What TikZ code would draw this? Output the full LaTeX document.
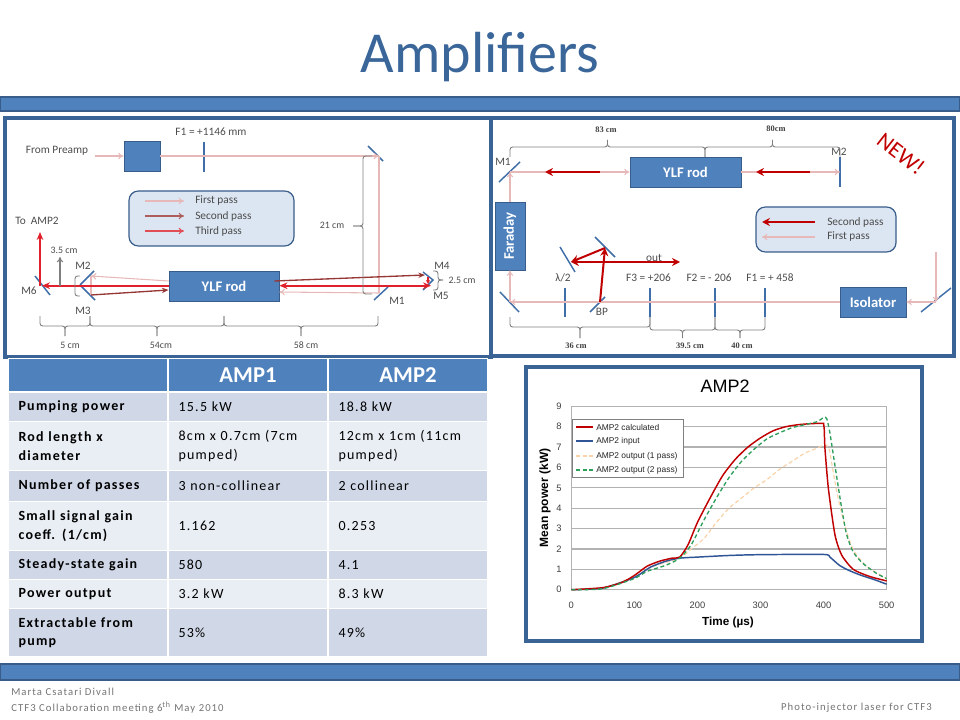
\documentclass[tikz,border=0pt]{standalone}
\usepackage{fontspec}
\usepackage{tikz}
\usetikzlibrary{positioning, calc, arrows.meta}
\setmainfont{Carlito}
\setsansfont{Liberation Sans}
\newfontfamily\footfont[LetterSpace=10]{Carlito}
\newfontfamily\tablefont[LetterSpace=9]{Carlito}
\newfontfamily\serifbit{Liberation Serif}
\definecolor{barblue}{HTML}{4F81BD}
\definecolor{edgeblue}{HTML}{385D8A}
\definecolor{paneblue}{HTML}{3A6396}
\definecolor{mirrorblue}{HTML}{3F6EA8}
\definecolor{legendfill}{HTML}{DCE6F2}
\definecolor{rowdark}{HTML}{D0D8E8}
\definecolor{rowlight}{HTML}{E9EDF4}
\definecolor{titleblue}{HTML}{3A6699}
\definecolor{palebeam}{HTML}{E6B9B8}
\definecolor{darkbeam}{HTML}{953735}
\definecolor{redbeam}{HTML}{C00000}
\definecolor{brightbeam}{HTML}{E0202A}
\definecolor{dimgray}{HTML}{7F7F7F}
\definecolor{inputblue}{HTML}{2F5597}
\definecolor{passgreen}{HTML}{2E9E5B}
\definecolor{passorange}{HTML}{FAD2A8}
\newcommand{\fsz}[1]{\fontsize{#1}{#1}\selectfont}
\newcommand{\dimbrack}[5]{\pgfmathsetmacro{\xm}{(#1+#2)/2}
  \draw[dimline] (#1,#3) -- (#1,#4) -- (\xm,#4) -- (\xm,#5);
  \draw[dimline] (\xm,#5) -- (\xm,#4) -- (#2,#4) -- (#2,#3);}
\tikzset{
  bar/.style={fill=barblue, draw=edgeblue, line width=1.6pt},
  pane/.style={draw=paneblue, line width=2.6pt},
  rod/.style={fill=barblue, draw=edgeblue, line width=.7pt, text=white, font=\fsz{11}\bfseries, inner sep=0},
  legendbox/.style={fill=legendfill, draw=edgeblue, line width=.9pt, rounded corners=7pt},
  lbl/.style={font=\fsz{8.5}, text=black!70, inner sep=0},
  small/.style={font=\fsz{7.4}, text=black!70, inner sep=0},
  tiny/.style={font=\serifbit\fsz{6.3}\bfseries, text=black!75, inner sep=0},
  dimline/.style={draw=dimgray, line width=.7pt, rounded corners=2pt},
  palearrow/.style={draw=palebeam, line width=.8pt, -{To[length=4pt,width=5pt]}},
  paleline/.style={draw=palebeam, line width=.8pt},
  darkarrow/.style={draw=darkbeam, line width=1pt, -{Stealth[length=5pt,width=4pt]}},
  thirdarrow/.style={draw=brightbeam, line width=1.6pt, -{Stealth[length=6pt,width=5pt]}},
  redarrow/.style={draw=redbeam, line width=1.5pt, -{Stealth[length=6pt,width=6pt]}},
  mirror/.style={draw=mirrorblue, line width=1.1pt},
  lens/.style={draw=mirrorblue, line width=.9pt},
  cell/.style={anchor=north west, minimum width=119.25pt, text width=104.25pt, inner xsep=7.5pt,
    inner ysep=0pt, draw=white, line width=.8pt, align=left},
  legtext/.style={font=\sffamily\fsz{6.3}, text=black!85, inner sep=0, anchor=west},
  ticktext/.style={font=\sffamily\fsz{7}, text=black!75, inner sep=0},
  gridl/.style={draw=black!30, line width=.9pt}
}
\begin{document}
\begin{tikzpicture}[x=0.75pt, y=-0.75pt, >=stealth]
\useasboundingbox (0,0) rectangle (960,720);

\node[font=\fsz{43.5}, text=titleblue, inner sep=0] (title) at (480,57) {Amplifiers};
\node[bar, minimum width=720pt, minimum height=11pt, inner sep=0] (topbar) at (480,104) {};
\node[bar, minimum width=720pt, minimum height=12pt, inner sep=0] (botbar) at (480,672) {};

\draw[pane] (5,118) rectangle (491,357);
\draw[pane] (491,118) rectangle (954,356);

% AMP1 layout
\node[lbl] (frompre) at (57,151) {From Preamp};
\node[fill=barblue, draw=edgeblue, line width=.7pt, minimum width=27pt, minimum height=22.5pt, inner sep=0] (preamp) at (142,156) {};
\node[lbl] (fonetxt) at (211,131.5) {F1 = +1146 mm};
\node[rod, minimum width=82.5pt, minimum height=22.5pt] (rodA) at (224,286) {YLF rod};
\draw[lens] (204,142) -- (204,172);
\coordinate (inA) at (95,156);
\coordinate (mTop) at (379,156);
\coordinate (mOne) at (379,293);
\coordinate (mTwo) at (91,276);
\coordinate (mThree) at (91,295);
\coordinate (mFour) at (425,275);
\coordinate (mTip) at (431,285.7);
\coordinate (mSix) at (42,285.7);
\coordinate (outA) at (40,232);
\coordinate (hTop) at (60,257);
\coordinate (hBot) at (60,285.7);
\draw[mirror] (368,146) -- (383,161);
\draw[mirror] (374,300) -- (388,287);
\draw[mirror] (80,285) -- (94,271);
\draw[mirror] (80,285) -- (95,300);
\draw[mirror] (35,276) -- (50,295);
\draw[mirror] (423,272) -- (433,280) -- (423,290);
\draw[palearrow] (inA) -- (preamp);
\draw[palearrow] (preamp) -- (mTop);
\draw[paleline] (mTop) -- (mOne);
\draw[palearrow] (mOne) -- (rodA.east |- 0,292);
\draw[palearrow] (rodA.west |- 0,281) -- (mTwo);
\draw[paleline] (mTwo) -- (mThree);
\draw[darkarrow] (mThree) -- (rodA.west |- 0,290);
\draw[darkarrow] (rodA.east |- 0,281) ++(-5,0) -- (mFour);
\draw[thirdarrow, {Stealth[length=6pt,width=5pt]}-{Stealth[length=6pt,width=5pt]}] (rodA.east |- 0,285.7) -- (mTip);
\draw[thirdarrow] (rodA.west |- 0,285.7) -- (mSix);
\draw[thirdarrow] (mSix) ++(-2,0) -- (outA);
\draw[draw=brightbeam, line width=.8pt, -{Stealth[length=3pt,width=3pt]}] (428,277) -- (428,284);
\draw[draw=dimgray, line width=.8pt, -{To[length=4pt,width=5pt]}] (hBot) -- (hTop);
\draw[dimline] (80,276) -- (75,276) -- (75,296) -- (80,296);
\node[lbl] (toamp) at (37,221) {To\ \ AMP2};
\node[small] (threefive) at (64,250) {3.5 cm};
\node[lbl] (ltwo) at (83,266) {M2};
\node[lbl] (lthree) at (83,311) {M3};
\node[lbl] (lsix) at (29,291) {M6};
\node[lbl] (lone) at (397,301) {M1};
\node[lbl] (lfour) at (442,266) {M4};
\node[lbl] (lfive) at (441,296) {M5};
\node[small] (twofive) at (462,280) {2.5 cm};
\node[small] (twoone) at (332,225) {21 cm};
\node[small] (fivecm) at (70,345) {5 cm};
\node[small] (fiftyfour) at (161,345) {54cm};
\node[small] (fiftyeight) at (306,345) {58 cm};
\dimbrack{40}{90}{316}{326}{336}
\dimbrack{90}{224}{316}{326}{336}
\dimbrack{224}{378}{316}{326}{336}
% the two upright brackets
\draw[dimline] (372,156) -- (363,156) -- (363,226) -- (353,226);
\draw[dimline] (353,226) -- (363,226) -- (363,294) -- (372,294);
\draw[dimline] (433,271) -- (438,271) -- (438,280) -- (443,280);
\draw[dimline] (443,280) -- (438,280) -- (438,290) -- (433,290);

\node[legendbox, minimum width=123.75pt, minimum height=41.25pt] (legA) at (211.5,218.5) {};
\coordinate (fpS) at (145,201);
\coordinate (fpE) at (184,201);
\coordinate (spS) at (145,216);
\coordinate (spE) at (184,216);
\coordinate (tpS) at (145,231);
\coordinate (tpE) at (184,231);
\draw[palearrow] (fpS) -- (fpE);
\draw[draw=darkbeam!70!palebeam, line width=.8pt, -{To[length=4pt,width=5pt]}] (spS) -- (spE);
\draw[draw=brightbeam!70!palebeam, line width=.8pt, -{To[length=4pt,width=5pt]}] (tpS) -- (tpE);
\node[lbl, anchor=west] (fptxt) at (195,201) {First pass};
\node[lbl, anchor=west] (sptxt) at (195,216) {Second pass};
\node[lbl, anchor=west] (tptxt) at (195,231) {Third pass};

% AMP2 layout
\node[rod, minimum width=83.25pt, minimum height=22.5pt] (rodB) at (685.5,172) {YLF rod};
\node[rod, rotate=90, minimum width=51pt, minimum height=22.5pt] (faraday) at (510,236) {Faraday};
\node[rod, minimum width=49.5pt, minimum height=22.5pt] (isolator) at (873,302) {Isolator};
\coordinate (bMone) at (510,172);
\coordinate (bMtwo) at (840,172);
\coordinate (bLow) at (510,302);
\coordinate (bIn) at (936,302);
\coordinate (bInTop) at (936,252);
\coordinate (rA) at (600,172);
\coordinate (rB) at (545,172);
\coordinate (rC) at (810,172);
\coordinate (rD) at (756,172);
\coordinate (oBP) at (600,302);
\coordinate (oUp) at (605,248);
\coordinate (oWave) at (571,262);
\coordinate (oOut) at (680,262);
\draw[mirror] (499,182) -- (520,162);
\draw[mirror] (500,292) -- (519,312);
\draw[mirror] (590,312) -- (605,297);
\draw[mirror] (595,237) -- (615,257);
\draw[mirror] (560,247) -- (575,272);
\draw[mirror] (921,312) -- (951,288);
\draw[lens] (840,157) -- (840,187);
\foreach \lx in {565,650,715,765}
  \draw[lens] (\lx,288) -- (\lx,317);
\draw[palearrow] (bMone) -- (rodB);
\draw[palearrow] (rodB) -- (bMtwo);
\draw[palearrow] (faraday) -- (bMone);
\draw[palearrow] (bLow) -- (faraday);
\draw[palearrow] (isolator) -- (bLow);
\draw[palearrow] (bIn) -- (isolator);
\draw[palearrow] (bInTop) -- (bIn);
\draw[redarrow] (rA) -- (rB);
\draw[redarrow] (rC) -- (rD);
\draw[redarrow] (oBP) -- (oUp);
\draw[redarrow] (oUp) -- (oWave);
\draw[redarrow, {Stealth[length=6pt,width=6pt]}-{Stealth[length=6pt,width=6pt]}] (oWave) -- (oOut);
\node[lbl] (mOneT) at (503,162) {M1};
\node[lbl] (mTwoT) at (839,152) {M2};
\node[lbl] (wave) at (563,278) {λ/2};
\node[lbl] (fthree) at (648.5,278) {F3 = +206};
\node[lbl] (ftwo) at (709,278) {F2 = - 206};
\node[lbl] (fone) at (770,278) {F1 = + 458};
\node[lbl] (bptxt) at (602,312) {BP};
\node[lbl] (outtxt) at (654,258) {out};
\node[tiny] (eightythree) at (606,130) {83 cm};
\node[tiny] (eighty) at (776,129) {80cm};
\node[tiny] (thirtysix) at (576,346) {36 cm};
\node[tiny] (thirtynine) at (690,346) {39.5 cm};
\node[tiny] (forty) at (742,346) {40 cm};
\dimbrack{510}{705}{157}{147}{140}
\dimbrack{705}{840}{157}{147}{140}
\dimbrack{510}{650}{317}{327}{338}
\dimbrack{650}{715}{317}{330}{338}
\dimbrack{715}{765}{317}{330}{338}
\node[legendbox, minimum width=105pt, minimum height=33.75pt] (legB) at (826,229.5) {};
\coordinate (lrS) at (815,222);
\coordinate (lrE) at (762,222);
\coordinate (lpS) at (815,237);
\coordinate (lpE) at (762,237);
\draw[redarrow] (lrS) -- (lrE);
\draw[palearrow] (lpS) -- (lpE);
\node[lbl, anchor=west] (secT) at (827,222) {Second pass};
\node[lbl, anchor=west] (firT) at (827,237) {First pass};
\node[font=\fsz{17}, text=redbeam, rotate=-38, inner sep=0] (newtxt) at (901,154) {NEW!};

% table
\foreach \yt/\yh/\rowc/\rid/\rlab/\ca/\cb in {
  392/29/rowdark/pow/{Pumping power}/{15.5 kW}/{18.8 kW},
  421/49/rowlight/rod/{Rod length x\\diameter}/{8cm x 0.7cm (7cm\\pumped)}/{12cm x 1cm (11cm\\pumped)},
  470/31/rowdark/num/{Number of passes}/{3 non-collinear}/{2 collinear},
  501/49/rowlight/sig/{Small signal gain\\coeff. (1/cm)}/{1.162}/{0.253},
  550/29/rowdark/sta/{Steady-state gain}/{580}/{4.1},
  579/29/rowlight/out/{Power output}/{3.2 kW}/{8.3 kW},
  608/48/rowdark/ext/{Extractable from\\pump}/{53\%}/{49\%}}{
  \node[cell, fill=\rowc, minimum height=\yh*0.75pt, font=\tablefont\fontsize{10.5}{14}\selectfont\bfseries] (lab\rid) at (8,\yt) {\rlab};
  \node[cell, fill=\rowc, minimum height=\yh*0.75pt, font=\tablefont\fontsize{10.5}{14}\selectfont] (a\rid) at (168,\yt) {\ca};
  \node[cell, fill=\rowc, minimum height=\yh*0.75pt, font=\tablefont\fontsize{10.5}{14}\selectfont] (b\rid) at (328,\yt) {\cb};
}
\node[cell, fill=barblue, minimum height=25pt] (head) at (8,358) {};
\node[cell, fill=barblue, minimum height=25pt, align=center, text=white, font=\fsz{17}\bfseries] (headA) at (168,358) {AMP1};
\node[cell, fill=barblue, minimum height=25pt, align=center, text=white, font=\fsz{17}\bfseries] (headB) at (328,358) {AMP2};

% chart
\draw[pane, fill=white] (526,367) rectangle (922,641);
\node[font=\sffamily\fsz{13.5}, inner sep=0] (charttitle) at (725,386) {AMP2};
\begin{scope}[shift={(571.3,589.7)}, x=0.473pt, y=15.28pt]
  \draw[draw=black!30, line width=.5pt] (0,9) -- (0,0) (500,9) -- (500,0);
  \foreach \v in {0,...,9} {
    \draw[gridl] (0,\v) -- (500,\v);
    \node[ticktext, anchor=east] (ytick\v) at (-15,\v) {\v};
  }
  \foreach \t in {0,100,...,500}
    \node[ticktext] (xtick\t) at (\t,-0.75) {\t};
  \draw[draw=passorange, line width=.9pt, densely dashed] plot[smooth, tension=.4] coordinates {
    (0,0) (50,.08) (100,.65) (130,1.15) (172,1.55) (190,2) (210,2.5) (230,3.3) (250,4) (270,4.5) (290,5)
    (310,5.4) (330,5.9) (350,6.3) (370,6.7) (390,6.95) (400,7.1) (408,7) (414,6) (421,4.8) (430,3.6) (440,2.5)
    (450,1.8) (470,1.1) (500,.55)};
  \draw[draw=inputblue, line width=1.1pt] plot[smooth, tension=.4] coordinates {
    (0,0) (50,.08) (100,.6) (125,1.1) (150,1.4) (172,1.55) (200,1.6) (250,1.68) (300,1.72) (400,1.73)
    (410,1.6) (425,1.2) (440,.95) (460,.7) (480,.5) (500,.27)};
  \draw[draw=redbeam, line width=1.1pt] plot[smooth, tension=.4] coordinates {
    (0,0) (50,.1) (80,.35) (100,.7) (120,1.15) (140,1.4) (160,1.55) (172,1.6) (185,2.2) (200,3.3) (220,4.5)
    (240,5.6) (260,6.4) (280,7) (300,7.45) (320,7.8) (340,8) (360,8.1) (380,8.15) (400,8.17)} --
    (401,7.9) -- plot[smooth, tension=.4] coordinates {(402,7) (407.5,5) (418,2.7) (428.7,1.7) (447,1) (473,.65) (500,.43)};
  \draw[draw=passgreen, line width=1pt, densely dashed] plot[smooth, tension=.4] coordinates {
    (0,0) (50,.05) (100,.55) (120,.9) (150,1.2) (172,1.55) (190,2.2) (210,3.4) (230,4.5) (250,5.5) (270,6.3)
    (290,6.9) (310,7.4) (330,7.7) (350,7.95) (370,8.1) (390,8.25) (400,8.45) (405,8.4) (410,7.7) (418,6.1)
    (428.7,4) (436.6,2.7) (447,1.85) (462,1.3) (484,.8) (500,.55)};
\end{scope}
\node[draw=black!50, fill=white, line width=.5pt, minimum width=83.25pt, minimum height=43.5pt, inner sep=0] (chartleg) at (627.5,448) {};
\foreach \ly/\lc/\lt/\ld in {
  427/redbeam/{AMP2 calculated}/solid,
  441/inputblue/{AMP2 input}/solid,
  456/passorange/{AMP2 output (1 pass)}/densely dashed,
  470/passgreen/{AMP2 output (2 pass)}/densely dashed}{
  \draw[draw=\lc, line width=.9pt, \ld] (576,\ly) -- (593,\ly);
  \node[legtext] (leg\ly) at (596,\ly) {\lt};
}
\node[font=\sffamily\bfseries\fsz{9}, rotate=90, inner sep=0] (ylabel) at (545,498) {Mean power (kW)};
\node[font=\sffamily\bfseries\fsz{8.8}, inner sep=0] (xlabel) at (728,622.5) {Time (µs)};

% footer
\node[anchor=west, inner sep=0, font=\footfont\fsz{8}, text=black!55] (author) at (11,692) {Marta Csatari Divall};
\node[anchor=west, inner sep=0, font=\footfont\fsz{8}, text=black!55] (meeting) at (11,708) {CTF3 Collaboration meeting 6\textsuperscript{th} May 2010};
\node[anchor=east, inner sep=0, font=\footfont\fsz{8}, text=black!55] (talk) at (932,708) {Photo-injector laser for CTF3};
\end{tikzpicture}
\end{document}
